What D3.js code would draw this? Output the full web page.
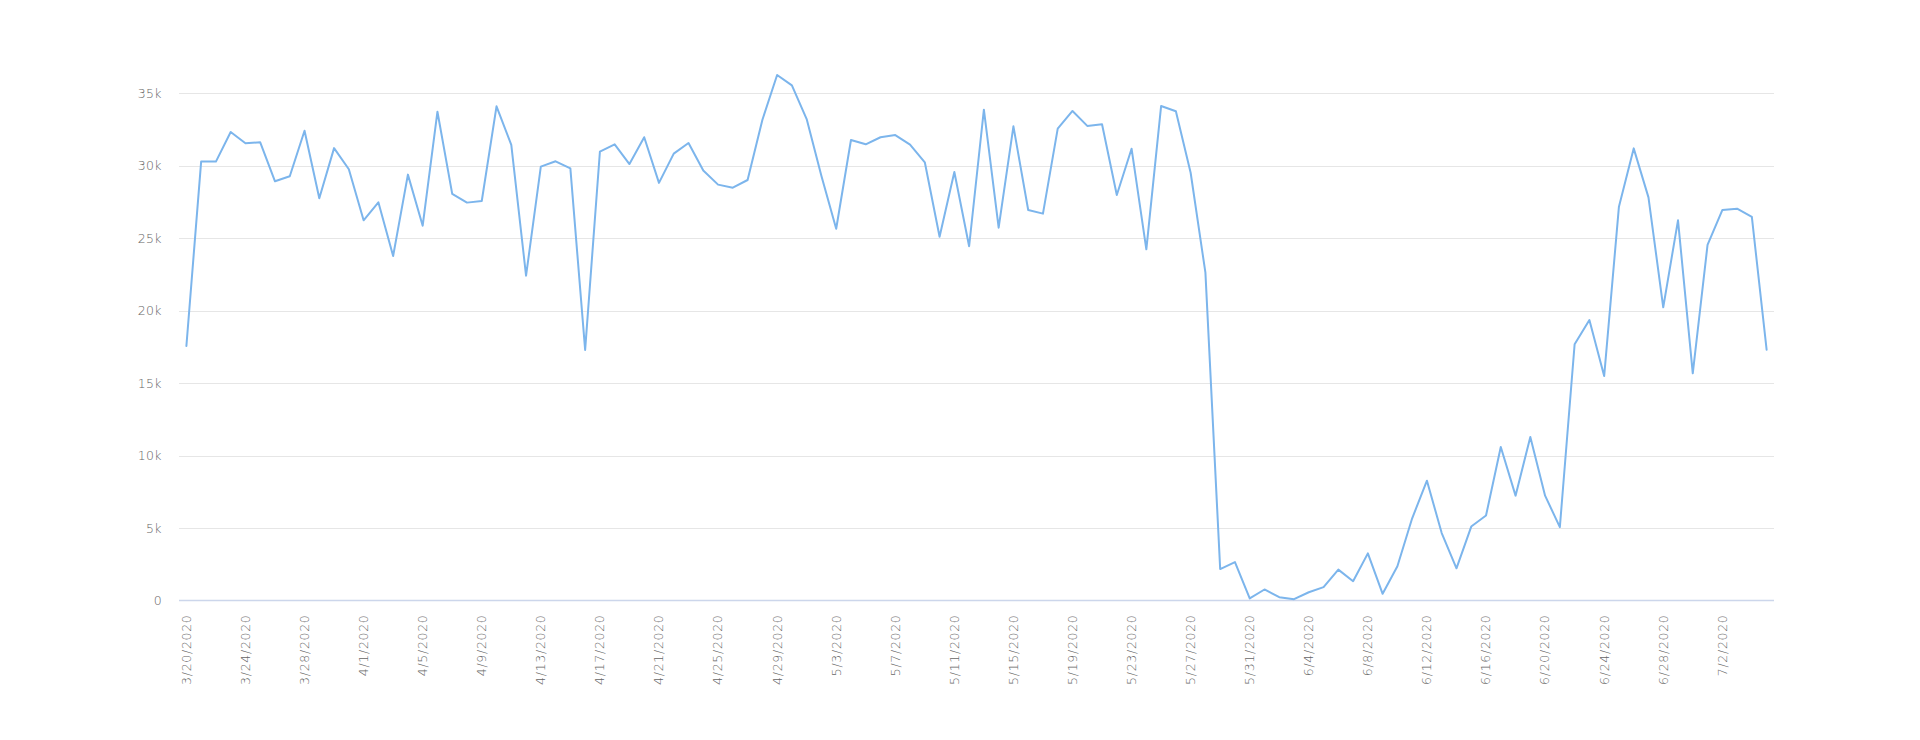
<!DOCTYPE html>
<html>
<head>
<meta charset="utf-8">
<script src="https://cdn.jsdelivr.net/npm/d3@7/dist/d3.min.js"></script>
<style>
  html, body { margin: 0; padding: 0; background: #ffffff; }
  svg { display: block; }
  text { font-family: "DejaVu Sans", Verdana, sans-serif; fill: #666666; }
</style>
</head>
<body>
<svg id="chart" width="1920" height="740"></svg>
<script>
// ---- data ----
const startDate = "3/20/2020";
const dayCount = 108;
const values = [
  17550, 30270, 30270, 32310, 31530, 31600, 28910, 29260, 32400, 27740,
  31200, 29740, 26220, 27460, 23760, 29370, 25850, 33710, 28040, 27440,
  27550, 34080, 31420, 22400, 29920, 30290, 29800, 17280, 30950, 31460,
  30100, 31950, 28800, 30820, 31550, 29650, 28680, 28470, 29000, 33140,
  36240, 35530, 33200, 29280, 25640, 31760, 31460, 31950, 32100, 31440,
  30220, 25090, 29550, 24430, 33850, 25710, 32700, 26930, 26680, 32540,
  33760, 32730, 32840, 27970, 31160, 24220, 34100, 33740, 29500, 22610,
  2170, 2650, 140, 760, 230, 90, 570, 920, 2130, 1330,
  3250, 460, 2360, 5670, 8260, 4650, 2220, 5100, 5860, 10590,
  7230, 11280, 7230, 5060, 17670, 19340, 15480, 27160, 31180, 27800,
  20220, 26220, 15670, 24520, 26930, 27020, 26450, 17300
];
const yTicks = [0, 5000, 10000, 15000, 20000, 25000, 30000, 35000];
const yTickLabels = ["0", "5k", "10k", "15k", "20k", "25k", "30k", "35k"];
const xTickEvery = 4;

// build category labels (M/D/YYYY)
const parse = d3.timeParse("%m/%d/%Y");
const start = parse(startDate);
const fmtDate = d => (d.getMonth() + 1) + "/" + d.getDate() + "/" + d.getFullYear();
const categories = d3.range(dayCount).map(i => fmtDate(d3.timeDay.offset(start, i)));

// ---- layout ----
const svg = d3.select("#chart");
const plotLeft = 179, plotRight = 1774, plotBottom = 600.5, topTickY = 93;
const labelFont = "'DejaVu Sans', Verdana, sans-serif";

const x = d3.scaleBand().domain(categories).range([plotLeft, plotRight]);
const xc = c => x(c) + x.bandwidth() / 2;
const y = d3.scaleLinear().domain([0, 35000]).range([plotBottom, topTickY]);

// gridlines
svg.append("g").selectAll("line")
  .data(yTicks.filter(t => t !== 0))
  .join("line")
  .attr("x1", plotLeft).attr("x2", plotRight)
  .attr("y1", d => Math.round(y(d)) + 0.5).attr("y2", d => Math.round(y(d)) + 0.5)
  .attr("stroke", "#e6e6e6").attr("stroke-width", 1);

// y axis labels
const yAxis = d3.axisLeft(y).tickValues(yTicks)
  .tickFormat((d, i) => yTickLabels[i]).tickSize(0).tickPadding(0);
const yg = svg.append("g").attr("transform", `translate(${plotLeft - 17},0)`).call(yAxis);
yg.select(".domain").remove();
yg.selectAll("text").attr("font-size", "12.5px").attr("fill", "#666666")
  .attr("font-weight", 200)
  .attr("letter-spacing", "0.4px")
  .attr("font-family", labelFont);

// x axis baseline
svg.append("line")
  .attr("x1", plotLeft).attr("x2", plotRight)
  .attr("y1", plotBottom).attr("y2", plotBottom)
  .attr("stroke", "#ccd6eb").attr("stroke-width", 1.5);

// x axis labels
const xLabels = categories.filter((c, i) => i % xTickEvery === 0);
const xAxis = d3.axisBottom(x).tickValues(xLabels).tickSize(0).tickPadding(0);
const xg = svg.append("g").attr("transform", `translate(0,${plotBottom})`).call(xAxis);
xg.select(".domain").remove();
xg.selectAll("text")
  .attr("font-size", "12.5px").attr("fill", "#666666")
  .attr("font-weight", 200)
  .attr("letter-spacing", "0.7px")
  .attr("font-family", labelFont)
  .attr("text-anchor", "end")
  .attr("dy", "0.35em")
  .attr("y", 0)
  .attr("transform", "translate(0,14) rotate(-90)");

// line
const line = d3.line().x((d, i) => xc(categories[i])).y(d => y(d));
svg.append("path")
  .datum(values)
  .attr("fill", "none")
  .attr("stroke", "#7cb5ec")
  .attr("stroke-width", 2)
  .attr("stroke-linejoin", "round")
  .attr("stroke-linecap", "round")
  .attr("d", line);
</script>
</body>
</html>
